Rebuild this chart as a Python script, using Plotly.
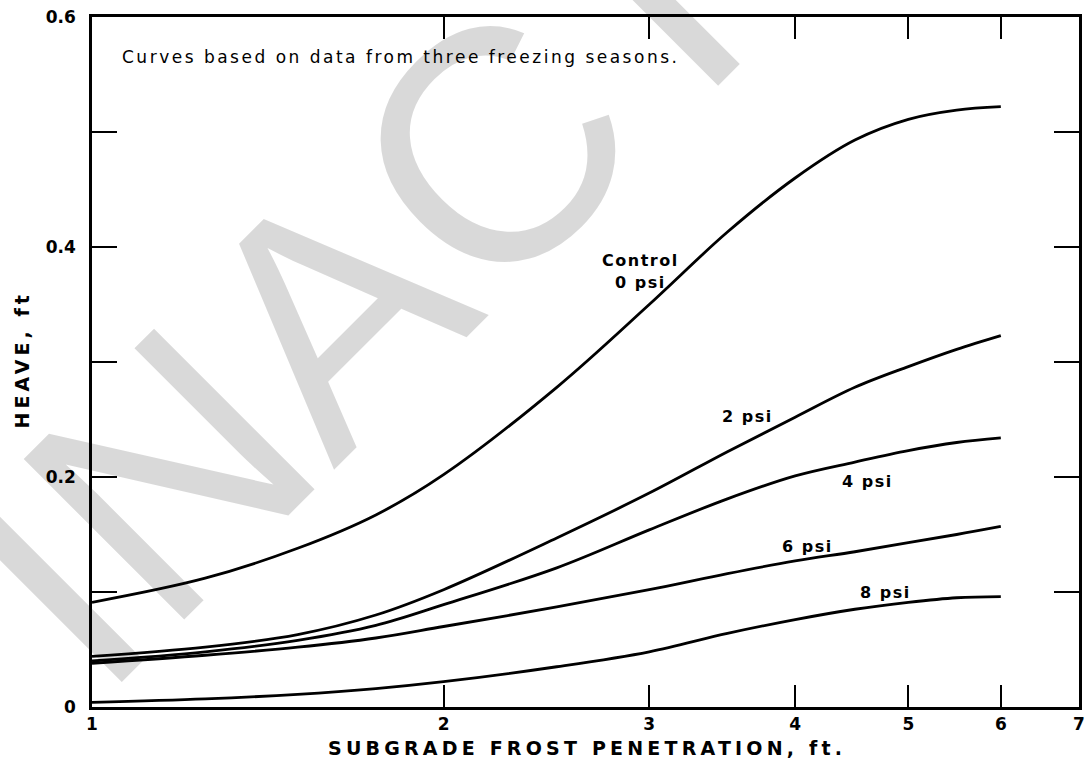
import math
import plotly.graph_objects as go

# ---- data ----
depth_ft = [1.0, 1.25, 1.5, 1.75, 2.0, 2.5, 3.0, 3.5, 4.0, 4.5, 5.0, 5.5, 6.0]
heave_control_0psi = [0.091, 0.112, 0.138, 0.167, 0.202, 0.278, 0.350, 0.413, 0.460, 0.493, 0.511, 0.519, 0.522]
heave_2psi = [0.044, 0.052, 0.063, 0.080, 0.102, 0.147, 0.186, 0.222, 0.252, 0.278, 0.296, 0.311, 0.323]
heave_4psi = [0.040, 0.048, 0.058, 0.071, 0.089, 0.121, 0.154, 0.181, 0.201, 0.213, 0.223, 0.230, 0.234]
heave_6psi = [0.038, 0.045, 0.052, 0.060, 0.070, 0.087, 0.102, 0.116, 0.127, 0.135, 0.143, 0.150, 0.157]
heave_8psi = [0.004, 0.007, 0.011, 0.016, 0.022, 0.035, 0.048, 0.064, 0.076, 0.085, 0.091, 0.095, 0.096]

x_tick_vals = [1, 2, 3, 4, 5, 6, 7]
x_tick_text = ["1", "2", "3", "4", "5", "6", "7"]
y_tick_vals = [0, 0.1, 0.2, 0.3, 0.4, 0.5, 0.6]
y_tick_text = ["0", "", "0.2", "", "0.4", "", "0.6"]

series = [
    ("Control 0 psi", heave_control_0psi),
    ("2 psi", heave_2psi),
    ("4 psi", heave_4psi),
    ("6 psi", heave_6psi),
    ("8 psi", heave_8psi),
]

FONT = "DejaVu Sans"
L, R, T, B = 92, 6, 17, 58
W, H = 1091, 765
PW, PH = W - L - R, H - T - B


def px(xp):
    return (xp - L) / PW


def py(yp):
    return (H - B - yp) / PH


fig = go.Figure()
for name, ys in series:
    fig.add_trace(go.Scatter(
        x=depth_ft, y=ys, mode="lines", name=name,
        line=dict(color="black", width=2.8, shape="spline", smoothing=1.0),
        showlegend=False, hoverinfo="x+y",
    ))

# watermark (semi-transparent so curves stay black)
fig.add_annotation(
    text="INACTIVE", xref="paper", yref="paper", x=px(560), y=py(84),
    xanchor="center", yanchor="middle",
    showarrow=False, textangle=-45,
    font=dict(family="Liberation Sans", size=330, color="rgba(0,0,0,0.15)"),
)

lab_font = dict(family=FONT, size=16, color="black", weight="bold")
curve_labels = [
    ("Control", 2.95, 0.388),
    ("0 psi", 2.95, 0.369),
    ("2 psi", 3.64, 0.253),
    ("4 psi", 4.61, 0.196),
    ("6 psi", 4.10, 0.140),
    ("8 psi", 4.78, 0.100),
]
for t, xv, yv in curve_labels:
    fig.add_annotation(text='<span style="letter-spacing:1.5px">%s</span>' % t,
                       x=math.log10(xv), y=yv, xref="x", yref="y",
                       xanchor="center", yanchor="middle",
                       showarrow=False, font=lab_font)

fig.add_annotation(
    text='<span style="letter-spacing:2.5px">Curves based on data from three freezing seasons.</span>',
    xref="paper", yref="paper", x=px(120), y=py(57),
    xanchor="left", yanchor="middle", showarrow=False,
    font=dict(family=FONT, size=17, color="black"),
)

fig.add_annotation(
    text='<span style="letter-spacing:4.2px"><b>SUBGRADE FROST PENETRATION, ft.</b></span>',
    xref="paper", yref="paper", x=px(590), y=py(748),
    xanchor="center", yanchor="middle", showarrow=False,
    font=dict(family=FONT, size=19, color="black"),
)
fig.add_annotation(
    text='<span style="letter-spacing:4px"><b>HEAVE, ft</b></span>',
    xref="paper", yref="paper", x=px(22), y=py(360),
    xanchor="center", yanchor="middle", showarrow=False, textangle=-90,
    font=dict(family=FONT, size=19, color="black"),
)

fig.update_layout(
    width=W, height=H,
    margin=dict(l=L, r=R, t=T, b=B),
    paper_bgcolor="white", plot_bgcolor="white",
    xaxis=dict(
        type="log", range=[0, math.log10(7)],
        tickvals=x_tick_vals, ticktext=x_tick_text,
        ticks="inside", ticklen=22, tickwidth=2, tickcolor="black",
        showline=True, linecolor="black", linewidth=2.5, mirror="ticks",
        showgrid=False, zeroline=False,
        tickfont=dict(family=FONT, size=17, color="black", weight="bold"),
    ),
    yaxis=dict(
        range=[0, 0.6],
        tickvals=y_tick_vals, ticktext=y_tick_text,
        ticks="inside", ticklen=25, tickwidth=2, tickcolor="black",
        showline=True, linecolor="black", linewidth=2.5, mirror="ticks",
        showgrid=False, zeroline=False, ticklabelstandoff=10,
        tickfont=dict(family=FONT, size=17, color="black", weight="bold"),
    ),
)

fig.write_html("out.html", config={"displayModeBar": False},
               post_script="document.body.style.margin='0';")
